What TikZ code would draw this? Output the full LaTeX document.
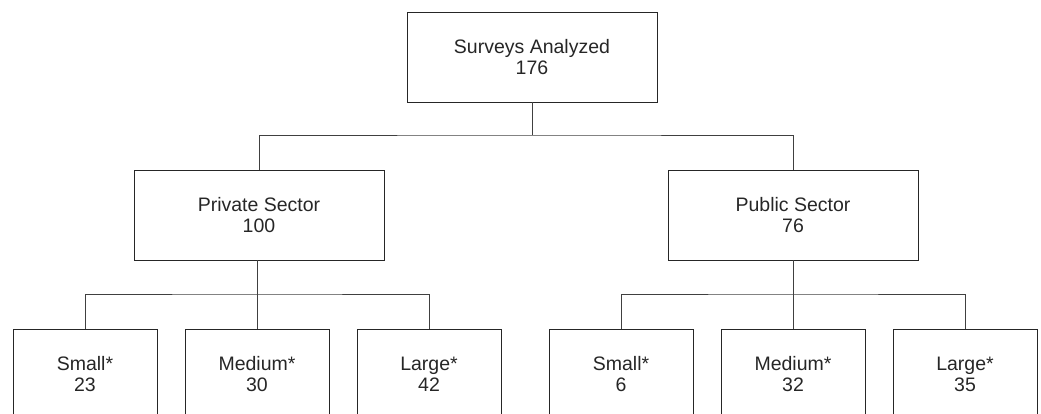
\documentclass[tikz,border=0pt]{standalone}
\usepackage{fontspec}
\setmainfont{Liberation Sans}
\begin{document}
\begin{tikzpicture}[x=1pt,y=-1pt,
  box/.style={draw=black!85,line width=0.9pt,rectangle,align=center,inner sep=0pt,
    font=\fontsize{19.5}{21}\selectfont,text=black!85},
  bigbox/.style={box,minimum width=250pt,minimum height=90pt},
  smallbox/.style={box,minimum width=144pt,minimum height=90pt},
  conn/.style={draw=black!75,line width=0.8pt}]
\path[use as bounding box] (0,0) rectangle (1041,414);
\clip (0,0) rectangle (1041,414);
\node[bigbox] (top) at (532,57) {Surveys Analyzed\\176};
\node[bigbox] (priv) at (259,215) {Private Sector\\100};
\node[bigbox] (pub) at (793,215) {Public Sector\\76};
\node[smallbox] (ps) at (85,374) {Small*\\23};
\node[smallbox] (pm) at (257,374) {Medium*\\30};
\node[smallbox] (pl) at (429,374) {Large*\\42};
\node[smallbox] (us) at (621,374) {Small*\\6};
\node[smallbox] (um) at (793,374) {Medium*\\32};
\node[smallbox] (ul) at (965,374) {Large*\\35};
\coordinate (j1) at (532,135);
\coordinate (j2) at (257,294);
\coordinate (j3) at (793,294);
\draw[conn] (top.south) -- (j1);
\draw[conn] (priv.north) |- (j1) -| (pub.north);
\draw[conn] (priv.south -| j2) -- (pm.north);
\draw[conn] (ps.north) |- (j2) -| (pl.north);
\draw[conn] (pub.south) -- (um.north);
\draw[conn] (us.north) |- (j3) -| (ul.north);
\end{tikzpicture}
\end{document}
